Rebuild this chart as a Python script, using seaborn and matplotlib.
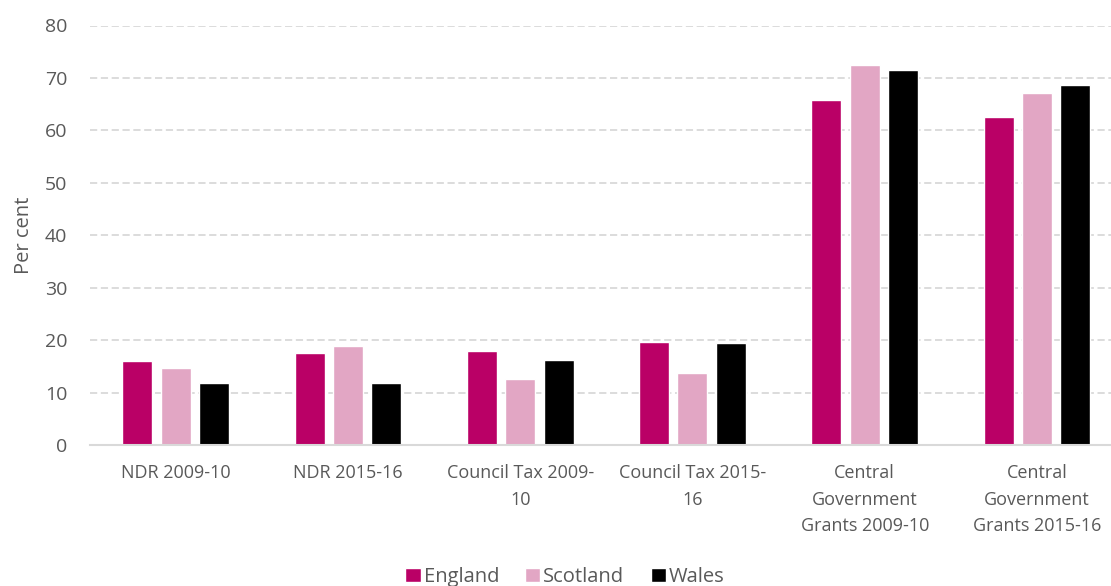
import matplotlib
matplotlib.use("Agg")
import matplotlib.pyplot as plt
import seaborn as sns
import pandas as pd

categories = ["NDR 2009-10", "NDR 2015-16", "Council Tax 2009-\n10", "Council Tax 2015-\n16",
              "Central\nGovernment\nGrants 2009-10", "Central\nGovernment\nGrants 2015-16"]
england = [16.1, 17.6, 17.9, 19.6, 65.8, 62.6]
scotland = [14.6, 18.8, 12.6, 13.8, 72.5, 67.2]
wales = [11.8, 11.8, 16.3, 19.4, 71.6, 68.7]
series = ["England", "Scotland", "Wales"]
colors = ["#BA0066", "#E2A6C4", "#000000"]
y_ticks = [0, 10, 20, 30, 40, 50, 60, 70, 80]

rows = []
for name, vals in zip(series, [england, scotland, wales]):
    for c, v in zip(categories, vals):
        rows.append({"cat": c, "series": name, "value": v})
df = pd.DataFrame(rows)

sns.set_theme(style="white")
plt.rcParams["font.family"] = ["Open Sans", "DejaVu Sans"]

fig = plt.figure(figsize=(11.11, 5.86), dpi=100)
ax = fig.add_axes([89.6 / 1111, 141.0 / 586, 1033.5 / 1111, 419.5 / 586])

sns.barplot(data=df, x="cat", y="value", hue="series", order=categories, hue_order=series,
            palette=colors, width=0.67, gap=0.22, ax=ax, legend=True, saturation=1)

ax.set_ylim(0, 80)
ax.set_xlim(-0.5, 5.5)
ax.set_yticks(y_ticks)
ax.yaxis.grid(True, color="#d9d9d9", linestyle=(0, (4, 2)), linewidth=1.3)
ax.set_axisbelow(True)
for s in ["top", "right", "left"]:
    ax.spines[s].set_visible(False)
ax.spines["bottom"].set_color("#d9d9d9")
ax.spines["bottom"].set_linewidth(1.5)
ax.tick_params(axis="x", length=0, colors="#595959", labelsize=13, pad=14)
ax.tick_params(axis="y", length=0, colors="#595959", labelsize=14, pad=16)
for lab in ax.get_xticklabels():
    lab.set_linespacing(1.6)
ax.set_xlabel("")
ax.set_ylabel("Per cent", fontsize=14.5, color="#595959", labelpad=8)

handles, labels = ax.get_legend_handles_labels()
ax.get_legend().remove()
fig.legend(handles, labels, loc="center", bbox_to_anchor=(565 / 1111, 1 - 577 / 586),
           ncol=3, frameon=False, fontsize=14.5, handlelength=0.75, handleheight=0.75,
           handletextpad=0.15, columnspacing=1.3, labelcolor="#595959")

fig.savefig("out.png", dpi=100)
